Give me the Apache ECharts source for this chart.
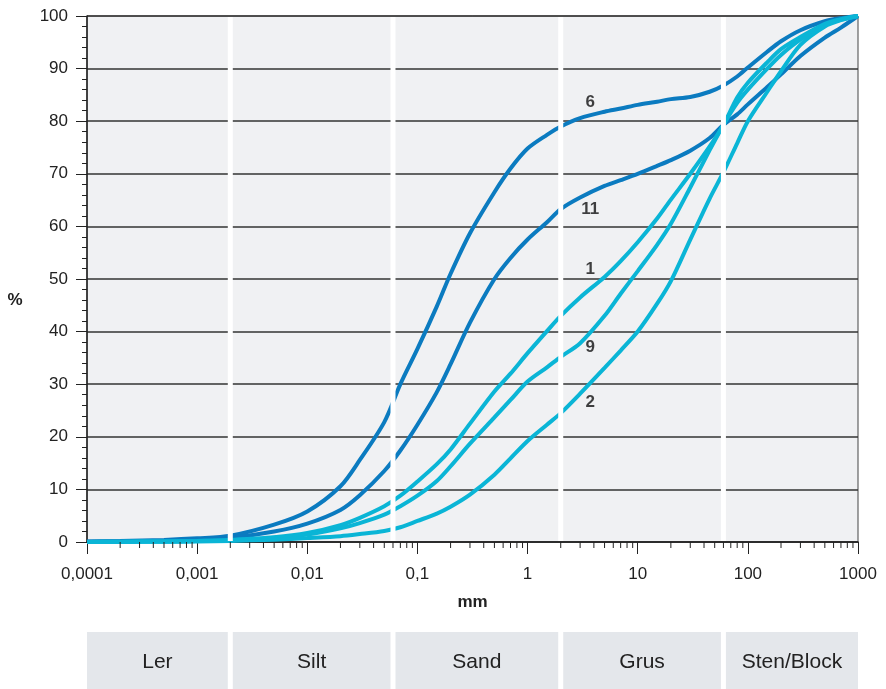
<!DOCTYPE html>
<html>
<head>
<meta charset="utf-8">
<title>Kornstorleksfördelning</title>
<script src="https://cdn.jsdelivr.net/npm/echarts@6.0.0/dist/echarts.min.js"></script>
<style>
	html, body { margin: 0; padding: 0; background: #fff; }
	#chart { width: 886px; height: 689px; }
</style>
</head>
<body>
<div id="chart"></div>
<script>
/* ---------- data ---------- */
// sieve sizes, mm
var sizes = [0.0001, 0.0002, 0.0005, 0.001, 0.002, 0.005, 0.01, 0.02, 0.03, 0.05, 0.07, 0.1, 0.15, 0.2, 0.3, 0.5, 0.7,
	1, 1.5, 2, 3, 5, 7, 10, 15, 20, 30, 45, 60, 80, 100, 150, 200, 300, 500, 700, 1000];
// passing, %
var curve6  = [0.1, 0.2, 0.4, 0.7, 1.2, 3.3, 5.8, 10.6, 15.6, 22.8, 30, 36.7, 44.8, 51, 58.7, 66.5, 71,
	74.8, 77.4, 79, 80.6, 81.8, 82.4, 83.1, 83.7, 84.2, 84.6, 85.6, 86.8, 88.5, 90.2, 93.2, 95.2, 97.3, 99, 99.6, 100];
var curve11 = [0.05, 0.1, 0.25, 0.45, 0.8, 2, 3.5, 6.1, 8.9, 13.5, 17.4, 22.3, 28.5, 33.8, 41.7, 50, 54,
	57.5, 60.8, 63.3, 65.5, 67.7, 68.8, 70, 71.5, 72.6, 74.4, 76.8, 79.3, 81.3, 83.2, 86.5, 88.9, 92.4, 95.9, 97.8, 100];
var curve1  = [0, 0.05, 0.1, 0.2, 0.4, 0.9, 1.7, 3.2, 4.6, 6.8, 8.8, 11.5, 14.8, 17.6, 22.5, 28.6, 32,
	35.9, 40.1, 43, 46.5, 50.4, 53.4, 57, 61.5, 65.1, 70, 75.2, 79.3, 84.5, 87.3, 91.2, 93.7, 96, 98.5, 99.4, 100];
var curve9  = [0, 0.05, 0.1, 0.2, 0.35, 0.8, 1.4, 2.6, 3.6, 5.2, 6.8, 8.8, 11.6, 14.4, 18.7, 23.7, 27,
	30.5, 33.2, 35.2, 37.8, 43, 47.2, 51.5, 56.5, 60.5, 67.4, 74.5, 79.3, 83.5, 86, 90, 92.6, 95.5, 98.3, 99.3, 100];
var curve2  = [0, 0.02, 0.05, 0.1, 0.2, 0.45, 0.75, 1.1, 1.5, 2.1, 2.8, 4, 5.4, 6.7, 9, 12.8, 15.9,
	19.2, 22.3, 24.5, 28.2, 33.1, 36.4, 40, 45.3, 49.6, 57.5, 65.3, 70.3, 75.8, 80, 85.6, 89.5, 94.5, 98, 99.2, 100];

var curveNames = ['6', '11', '1', '9', '2'];
var curveValues = [curve6, curve11, curve1, curve9, curve2];
var labelSize = 3.7;                               // mm where the curve numbers stand
var labelPct = [83.5, 63.3, 51.9, 37.1, 26.6];

var tickLabels = ['0,0001', '0,001', '0,01', '0,1', '1', '10', '100', '1000'];
var classEdges = [0.0001, 0.002, 0.06, 2, 60, 1000];
var classNames = ['Ler', 'Silt', 'Sand', 'Grus', 'Sten/Block'];

/* ---------- styles ---------- */
var DARK = '#0b7bc0', CYAN = '#0ab5d6';
var FONT = '"Liberation Sans", Arial, sans-serif';

function pairs(vals) {
	var out = [];
	for (var i = 0; i < sizes.length; i++) out.push([sizes[i], vals[i]]);
	return out;
}

// minor ticks of the log axis: 2..9 in every decade
var minorTicks = [];
for (var d = -4; d < 3; d++) {
	for (var m = 2; m <= 9; m++) minorTicks.push([m * Math.pow(10, d), 0]);
}

var series = [];
for (var i = 0; i < curveNames.length; i++) {
	series.push({
		name: curveNames[i],
		type: 'line',
		data: pairs(curveValues[i]),
		showSymbol: false,
		smooth: 0.3,
		z: i < 2 ? 2 : 3,
		lineStyle: { color: i < 2 ? DARK : CYAN, width: 4 },
		itemStyle: { color: i < 2 ? DARK : CYAN }
	});
}

// white class borders (drawn over the curves)
series.push({
	type: 'custom',
	z: 6,
	silent: true,
	data: classEdges.slice(1, classEdges.length - 1).map(function(v) { return [v, 0]; }),
	renderItem: function(params, api) {
		var top = api.coord([api.value(0), 100]);
		var bot = api.coord([api.value(0), 0]);
		return {
			type: 'rect',
			shape: { x: top[0] - 2.5, y: top[1] + 1, width: 5, height: bot[1] - top[1] - 2 },
			style: { fill: '#ffffff' }
		};
	}
});

// minor x ticks
series.push({
	type: 'custom',
	z: 6,
	silent: true,
	data: minorTicks,
	renderItem: function(params, api) {
		var p = api.coord([api.value(0), 0]);
		return {
			type: 'line',
			shape: { x1: p[0], y1: p[1], x2: p[0], y2: p[1] + 6 },
			style: { stroke: '#222', lineWidth: 1 }
		};
	}
});

// curve numbers
series.push({
	type: 'scatter',
	z: 7,
	symbolSize: 0,
	silent: true,
	data: curveNames.map(function(n, k) { return { name: n, value: [labelSize, labelPct[k]] }; }),
	label: {
		show: true,
		position: 'inside',
		formatter: '{b}',
		color: '#111',
		fontWeight: 'bold',
		fontSize: 17,
		fontFamily: FONT
	}
});

var option = {
	animation: false,
	backgroundColor: '#ffffff',
	textStyle: { fontFamily: FONT },
	grid: {
		left: 87, right: 28, top: 16, bottom: 147,
		outerBoundsMode: 'none',
		containLabel: false,
		show: true,
		backgroundColor: '#f0f1f3',
		borderColor: '#444',
		borderWidth: 1
	},
	xAxis: {
		type: 'log',
		logBase: 10,
		min: 0.0001,
		max: 1000,
		name: 'mm',
		nameLocation: 'middle',
		nameGap: 52,
		nameTextStyle: { fontSize: 17, fontWeight: 'bold', color: '#222' },
		axisLine: { lineStyle: { color: '#222', width: 1.5 } },
		axisTick: { show: true, inside: false, length: 12, lineStyle: { color: '#222', width: 1 } },
		splitLine: { show: false },
		axisLabel: {
			fontSize: 17,
			color: '#222',
			margin: 24,
			formatter: function(v) {
				return tickLabels[Math.round(Math.log10(v)) + 4];
			}
		}
	},
	yAxis: {
		type: 'value',
		min: 0,
		max: 100,
		interval: 10,
		axisLine: { show: true, lineStyle: { color: '#222', width: 1.5 } },
		axisTick: { show: true, inside: false, length: 11, lineStyle: { color: '#222' } },
		minorTick: { show: true, splitNumber: 5, length: 5, lineStyle: { color: '#222' } },
		splitLine: { show: true, lineStyle: { color: '#333', width: 1.5 } },
		axisLabel: { fontSize: 17, color: '#222', margin: 19 }
	},
	series: series
};

var myChart = echarts.init(document.getElementById('chart'));
myChart.setOption(option);

/* ---------- y title and soil class table under the chart ---------- */
var graphics = [{
	type: 'text',
	x: 15,
	y: 300,
	style: { text: '%', fill: '#222', font: 'bold 17px ' + FONT, align: 'center', verticalAlign: 'middle' },
	silent: true
}];
for (var c = 0; c < classNames.length; c++) {
	var x0 = myChart.convertToPixel({ xAxisIndex: 0 }, classEdges[c]);
	var x1 = myChart.convertToPixel({ xAxisIndex: 0 }, classEdges[c + 1]);
	if (c > 0) x0 += 2.5;
	if (c < classNames.length - 1) x1 -= 2.5;
	graphics.push({
		type: 'rect',
		shape: { x: x0, y: 632, width: x1 - x0, height: 57 },
		style: { fill: '#e4e7eb' },
		silent: true
	});
	graphics.push({
		type: 'text',
		x: (x0 + x1) / 2,
		y: 662,
		style: {
			text: classNames[c],
			fill: '#222',
			font: '21px ' + FONT,
			align: 'center',
			verticalAlign: 'middle'
		},
		silent: true
	});
}
myChart.setOption({ graphic: graphics });
</script>
</body>
</html>
